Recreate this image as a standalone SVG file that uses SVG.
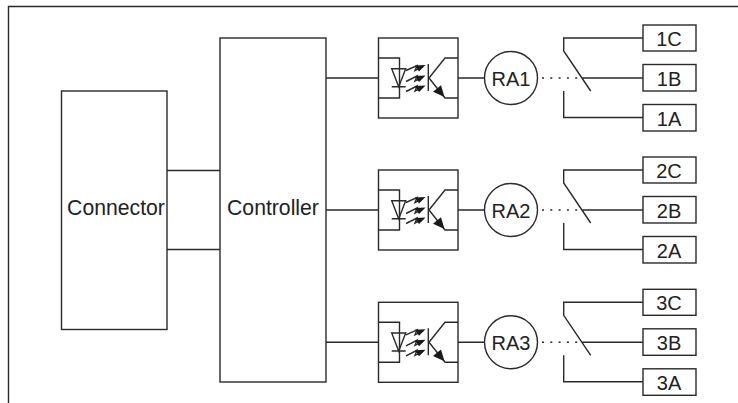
<svg xmlns="http://www.w3.org/2000/svg" xmlns:xlink="http://www.w3.org/1999/xlink" width="738" height="403" viewBox="0 0 738 403">
<style>
.l{fill:none;stroke:#2a2a2a;stroke-width:1.4}
.b{fill:#fff;stroke:#2a2a2a;stroke-width:1.4}
.d{fill:none;stroke:#2a2a2a;stroke-width:1.4;stroke-dasharray:2 6.3}
.f{fill:#1a1a1a;stroke:none}
.t{font-family:"Liberation Sans",Arial,sans-serif;font-size:20px;fill:#222;text-anchor:middle}
.w{font-size:21.2px}
</style>
<defs>
<g id="opto">
<rect class="b" x="378.500" y="38" width="79.500" height="80"/>
<path class="l" d="M378.500 58H399.500V98H378.500"/>
<path class="l" d="M391.700 68.700H405.700L398.700 86.700ZM391.700 86.700H405.700"/>
<path class="l" d="M406 70.500L417 65.500L415 70.500L423 66.500M406 81.500L417 76L415 81L423 77M406 91.500L417 86L415 91L423 87"/>
<path class="f" d="M425.500 65L415 65.500L419 71.500ZM425.500 75.500L415 76L419 82ZM425.500 85.500L415 86L419 92Z"/>
<path class="l" d="M428.300 64V91M429 78L445 58H458M429 78L445 98H458"/>
<path class="f" d="M444.500 97L433 91.700L441 85.200Z"/>
</g>
<g id="sw">
<path class="l" d="M643 38H563.700V51L590.700 91M582 78H643M563.700 91V117.500H643"/>
<path class="d" d="M542 78H580"/>
</g>
</defs>
<g id="frame"><path class="l" d="M738 6.500H8.500V403"/></g>
<g id="connectors">
<path class="l" d="M167 170.500H220M167 249.500H220M326 78H378.500M326 210H378.500M326 342.300H378.500"/>
<path class="l" d="M458 78H484.500M458 210H484.500M458 342.300H484.500"/>
<use xlink:href="#sw" href="#sw"/>
<use xlink:href="#sw" href="#sw" y="132"/>
<use xlink:href="#sw" href="#sw" y="264.300"/>
</g>
<g id="connector"><rect class="b" x="61.500" y="91" width="105.500" height="238.500"/><text class="t w" x="116" y="214.500">Connector</text></g>
<g id="controller"><rect class="b" x="220" y="38" width="106" height="344"/><text class="t w" x="273" y="214.500">Controller</text></g>
<g id="opto1"><use xlink:href="#opto" href="#opto"/></g>
<g id="opto2"><use xlink:href="#opto" href="#opto" y="132"/></g>
<g id="opto3"><use xlink:href="#opto" href="#opto" y="264.300"/></g>
<g id="ra1"><circle class="b" cx="511" cy="78" r="26.500"/><text class="t" x="511" y="86">RA1</text></g>
<g id="ra2"><circle class="b" cx="511" cy="210" r="26.500"/><text class="t" x="511" y="218">RA2</text></g>
<g id="ra3"><circle class="b" cx="511" cy="342.300" r="26.500"/><text class="t" x="511" y="350.300">RA3</text></g>
<g id="t1c"><rect class="b" x="643" y="25" width="53" height="26"/><text class="t" x="669" y="45.800">1C</text></g>
<g id="t1b"><rect class="b" x="643" y="64.500" width="53" height="26.500"/><text class="t" x="669" y="85.500">1B</text></g>
<g id="t1a"><rect class="b" x="643" y="104.500" width="53" height="26.500"/><text class="t" x="669" y="125.500">1A</text></g>
<g id="t2c"><rect class="b" x="643" y="157" width="53" height="26"/><text class="t" x="669" y="177.800">2C</text></g>
<g id="t2b"><rect class="b" x="643" y="196.500" width="53" height="26.500"/><text class="t" x="669" y="217.500">2B</text></g>
<g id="t2a"><rect class="b" x="643" y="236.500" width="53" height="26.500"/><text class="t" x="669" y="257.500">2A</text></g>
<g id="t3c"><rect class="b" x="643" y="289.300" width="53" height="26"/><text class="t" x="669" y="310.100">3C</text></g>
<g id="t3b"><rect class="b" x="643" y="328.800" width="53" height="26.500"/><text class="t" x="669" y="349.800">3B</text></g>
<g id="t3a"><rect class="b" x="643" y="368.800" width="53" height="26.500"/><text class="t" x="669" y="389.800">3A</text></g>
</svg>
